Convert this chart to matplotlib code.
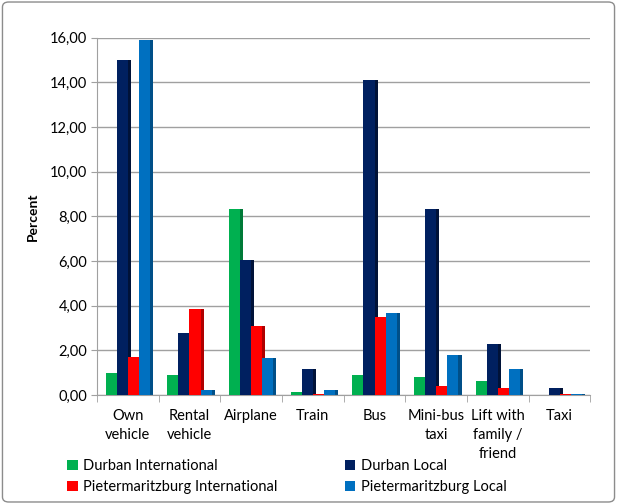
import numpy as np
import matplotlib
matplotlib.use("Agg")
import matplotlib.pyplot as plt
from matplotlib.patches import FancyBboxPatch

plt.rcParams["font.family"] = ["Lato", "DejaVu Sans"]

categories = ["Own\nvehicle", "Rental\nvehicle", "Airplane", "Train", "Bus",
              "Mini-bus\ntaxi", "Lift with\nfamily /\nfriend", "Taxi"]
series_names = ["Durban International", "Durban Local",
                "Pietermaritzburg International", "Pietermaritzburg Local"]
durban_int = [1.00, 0.90, 8.35, 0.15, 0.90, 0.80, 0.65, 0.02]
durban_loc = [15.00, 2.80, 6.05, 1.15, 14.10, 8.35, 2.30, 0.30]
pmb_int = [1.70, 3.85, 3.10, 0.05, 3.50, 0.40, 0.30, 0.05]
pmb_loc = [15.90, 0.25, 1.65, 0.25, 3.70, 1.80, 1.15, 0.03]
yticks = [0, 2, 4, 6, 8, 10, 12, 14, 16]

colors = ["#00B050", "#002060", "#FF0000", "#0070C0"]
sides = ["#007A38", "#001238", "#B00000", "#004F88"]

fig = plt.figure(figsize=(6.17, 5.04), dpi=100)
ax = fig.add_axes([0.157, 0.216, 0.80, 0.709])

x = np.arange(len(categories))
width = 0.18
depth = 0.05
for i, (vals, c, sc, name) in enumerate(zip(
        [durban_int, durban_loc, pmb_int, pmb_loc], colors, sides, series_names)):
    pos = x + (i - 1.5) * width
    ax.bar(pos, vals, width, color=c, label=name, zorder=3, linewidth=0)
    # pseudo 3-D side face
    ax.bar(pos + width / 2 + depth / 2, vals, depth, color=sc, zorder=2,
           linewidth=0)

ax.set_xlim(-0.5, len(categories) - 0.5)
ax.set_ylim(0, 16)
ax.set_yticks(yticks)
ax.set_yticklabels([f"{v:.2f}".replace(".", ",") for v in yticks], fontsize=10.5)
ax.set_xticks(x)
ax.set_xticklabels(categories, fontsize=10.5, linespacing=1.45)
ax.tick_params(axis="x", length=0, pad=10)
ax.set_xticks(np.arange(-0.5, len(categories)), minor=True)
ax.tick_params(axis="x", which="minor", length=5, color="#A0A0A0")
ax.tick_params(axis="y", length=4, color="#A0A0A0", pad=3)
ax.yaxis.grid(True, color="#A0A0A0", linewidth=1.0, zorder=0)
ax.set_axisbelow(True)
for s in ["top", "right"]:
    ax.spines[s].set_visible(False)
ax.spines["left"].set_color("#A0A0A0")
ax.spines["bottom"].set_color("#A0A0A0")
ax.set_ylabel("Percent", fontsize=10, fontweight="bold", labelpad=8)

# legend is filled column-wise: put row order DI, DL / PI, PL
handles, labels = ax.get_legend_handles_labels()
order = [0, 2, 1, 3]
fig.legend([handles[k] for k in order], [labels[k] for k in order],
           loc="upper left", bbox_to_anchor=(0.088, 0.115),
           ncol=2, frameon=False, fontsize=10.5, handlelength=0.7,
           handleheight=0.7, handletextpad=0.4, columnspacing=4.6,
           labelspacing=0.45)

frame = FancyBboxPatch((0.004, 0.004), 0.992, 0.992,
                       boxstyle="round,pad=0,rounding_size=0.01",
                       transform=fig.transFigure, fill=False,
                       edgecolor="#8C8C8C", linewidth=1.0)
fig.patches.append(frame)

fig.savefig("out.png", dpi=100)
